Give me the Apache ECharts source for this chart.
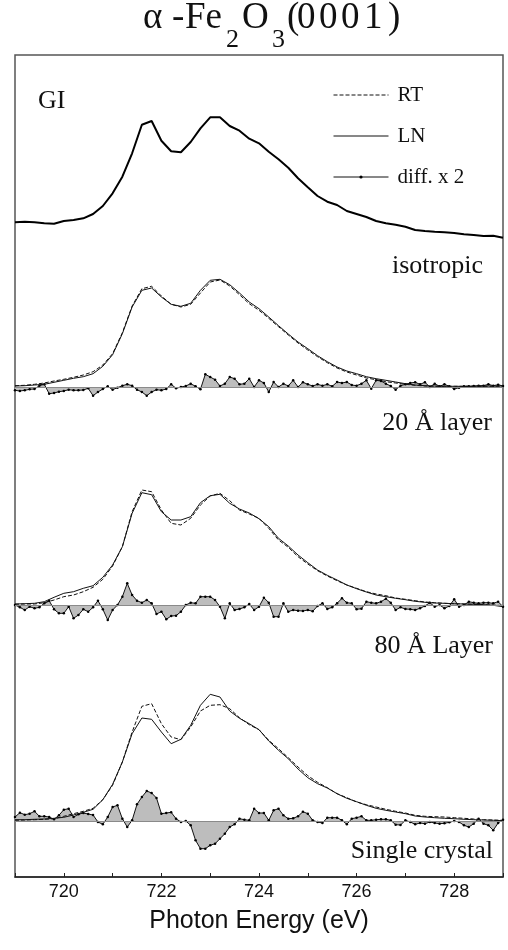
<!DOCTYPE html>
<html>
<head>
<meta charset="utf-8">
<script src="https://cdn.jsdelivr.net/npm/echarts@6/dist/echarts.min.js"></script>
<style>
  html, body { margin: 0; padding: 0; background: #fff; }
  #chart { width: 508px; height: 950px; }
</style>
</head>
<body>
<div id="chart"></div>
<script>
// photon energy grids (eV): spectra every 0.2 eV, difference curves every 0.1 eV
var energy = [719.0,719.2,719.4,719.6,719.8,720.0,720.2,720.4,720.6,720.8,
  721.0,721.2,721.4,721.6,721.8,722.0,722.2,722.4,722.6,722.8,
  723.0,723.2,723.4,723.6,723.8,724.0,724.2,724.4,724.6,724.8,
  725.0,725.2,725.4,725.6,725.8,726.0,726.2,726.4,726.6,726.8,
  727.0,727.2,727.4,727.6,727.8,728.0,728.2,728.4,728.6,728.8,729.0];
var energyFine = [719.0,719.1,719.2,719.3,719.4,719.5,719.6,719.7,719.8,719.9,
  720.0,720.1,720.2,720.3,720.4,720.5,720.6,720.7,720.8,720.9,
  721.0,721.1,721.2,721.3,721.4,721.5,721.6,721.7,721.8,721.9,
  722.0,722.1,722.2,722.3,722.4,722.5,722.6,722.7,722.8,722.9,
  723.0,723.1,723.2,723.3,723.4,723.5,723.6,723.7,723.8,723.9,
  724.0,724.1,724.2,724.3,724.4,724.5,724.6,724.7,724.8,724.9,
  725.0,725.1,725.2,725.3,725.4,725.5,725.6,725.7,725.8,725.9,
  726.0,726.1,726.2,726.3,726.4,726.5,726.6,726.7,726.8,726.9,
  727.0,727.1,727.2,727.3,727.4,727.5,727.6,727.7,727.8,727.9,
  728.0,728.1,728.2,728.3,728.4,728.5,728.6,728.7,728.8,728.9,729.0];

// GI spectrum
var gi = [17.7,18.3,17.7,16.7,16.3,19.0,20.0,21.7,26.0,34.0,
  46.7,63.3,86.7,115.3,119.0,99.3,88.7,87.7,98.0,111.7,
  122.7,122.7,114.0,109.3,101.3,96.7,88.3,80.7,72.3,61.7,
  52.7,44.0,38.3,35.0,29.0,26.0,23.0,19.0,16.7,15.3,
  13.3,10.0,9.0,8.3,7.7,7.0,5.7,5.0,4.0,4.3,2.3];

// isotropic
var isoRT = [1.3,1.7,2.7,4.0,6.0,7.7,9.7,12.0,15.3,22.0,
  33.3,54.3,81.0,98.3,100.7,91.0,82.7,80.0,82.7,94.0,
  105.0,107.0,101.0,92.3,83.3,76.7,68.7,60.3,52.0,44.0,
  37.0,30.3,24.3,19.0,15.0,12.0,9.0,7.3,5.3,4.0,
  2.7,1.7,1.0,0.7,0.7,0.7,0.7,0.7,0.7,0.7,0.7];
var isoLN = [1.0,1.3,2.0,2.7,4.7,6.7,8.7,10.3,13.3,20.7,
  32.3,53.3,80.0,96.7,99.0,90.0,82.7,80.7,83.7,96.7,
  106.7,107.7,102.3,94.0,85.0,78.3,70.0,61.3,53.0,45.0,
  38.3,31.3,25.3,20.0,16.0,13.3,10.3,8.3,6.7,5.0,
  3.3,2.0,1.3,1.0,0.7,0.7,0.7,0.7,1.0,1.0,1.0];
var isoDiff = [-3.3,-4,-3.3,-2.3,-2,1.3,2.7,-6.7,-6,-4.7,
  -4,-2.7,-3.3,-3.3,-3,-1.3,-8.7,-5,-2,0.7,
  -2.7,-0.7,1.3,2.7,1.3,-2.7,-5,-8.7,-5,-2.7,
  -3.3,-2,2.7,-1.3,0,1,3.3,0.7,-2.3,12.7,
  10,7.3,1,3.3,10,8.3,2.7,3.3,8.3,0,
  6.7,4,-5,5,0,3.3,1,6.7,0,4.7,
  2.7,1,2.7,1.3,2.7,0.7,5,4,5,2,
  1.3,3.3,6.7,-1.7,6.7,6,3.3,1,-2.7,1.3,
  2.7,4,4.7,2.7,4.7,0,3.3,0.7,2.7,0.7,
  -2,-0.7,0.7,0.7,1,1.3,1.3,2.7,1.3,2.3,1];

// 20 A layer
var l20RT = [0.7,1.0,1.0,2.3,5.0,8.3,10.0,13.3,17.7,25.7,
  39.0,58.3,93.3,115.0,113.3,95.0,81.7,80.0,86.7,100.0,
  109.0,111.7,104.3,95.0,91.0,86.7,76.7,65.0,57.7,48.3,
  41.0,34.3,29.0,24.3,20.0,16.7,13.3,11.0,9.3,7.0,
  5.7,4.3,3.0,2.3,1.7,1.3,1.0,0.7,0.3,0.0,-0.7];
var l20LN = [1.0,1.3,1.7,3.3,7.7,11.7,13.3,16.7,19.3,27.7,
  40.0,58.3,91.7,112.3,110.3,93.3,85.0,85.0,88.3,102.3,
  109.3,110.7,101.7,96.0,92.0,86.3,78.3,66.7,59.0,50.0,
  42.3,35.0,29.7,25.0,20.0,16.3,13.0,10.0,8.3,6.7,
  5.3,3.7,2.7,2.0,1.7,1.3,1.0,0.7,0.3,-0.3,-1.7];
var l20Diff = [0,-2.3,-5,-1.7,-3.3,-2.3,1.7,4.3,-4.3,-8.3,
  -8.3,-1.7,-13.3,-10,-4.3,-6.7,-2.3,4.3,-4.3,-15,
  -5,0,8.3,21.7,10,4.3,2.3,5,1.7,-9,
  -6.7,-14.3,-11,-10.7,-6.7,0,2.3,1.7,8.3,8.3,
  8.3,5,-1.7,-13.3,1.7,-5,-4,-2.3,1,-5,
  -1.7,7.3,2.3,-11.7,-11.7,1.7,-6.7,-5,-5.7,-6,
  -5,-6.3,-1,1.7,-4,-2.3,1.7,6.7,2.3,1.7,
  -4.3,-3.7,3.3,2.3,1.7,3.3,6.3,2.3,-5,-2.3,
  -4,-4.3,-5,-3.3,-1,2.3,-1.7,0,-3.3,-1,
  5.7,-1.7,0,3.3,2.3,1.7,2.3,2.3,1.7,3.3,-1.7];

// 80 A layer / single crystal
var scRT = [0.7,1.0,1.3,1.7,2.3,4.7,7.3,9.7,12.7,21.3,
  35.7,59.0,89.0,114.7,117.3,97.3,84.0,81.3,94.0,110.0,
  115.7,116.3,112.3,103.3,96.3,91.3,80.7,72.3,63.3,54.0,
  45.3,38.7,33.3,27.3,23.3,19.0,16.3,14.0,11.7,9.7,
  8.0,5.7,4.7,4.3,4.0,3.3,2.7,2.0,1.3,1.0,0.7];
var scLN = [1.3,1.3,1.7,2.0,2.7,3.7,6.0,8.7,11.7,21.3,
  36.7,59.0,87.3,103.0,101.7,89.0,77.3,81.7,95.7,115.7,
  126.7,124.0,110.0,102.7,97.3,91.3,80.0,70.7,62.3,52.0,
  43.3,37.3,33.0,27.3,22.7,19.3,15.7,12.7,10.7,9.0,
  7.3,5.0,4.0,3.3,2.7,2.3,1.7,1.3,1.0,0.7,0.3];
var scDiff = [4,8.3,6.3,7.3,9.7,4.7,4.7,4,1.7,5.7,
  11.3,12.3,4,6.7,8,7,6,-1,-3.3,4,
  14,15.7,2.3,-6,0.7,16.7,24,30,28,23,
  7.3,8,8.7,2.3,-1,0,-4.3,-19.3,-27.7,-27.7,
  -24.3,-22.7,-17.7,-12.7,-6,-3.3,2.3,1.3,0.7,12.3,
  8,8,0.7,10.7,12.3,5.7,2.3,2.7,4.7,9.3,
  7.3,0.7,-1,-2,3.3,3.3,3.3,0.7,-3.3,2.3,
  3.3,4.7,0.7,0.7,1.3,1.7,1.7,0.7,-3.7,-4,
  0.7,-1,-3.3,-2,-2.7,-1,-2,-2.7,-2.3,-1.3,
  0,-1,-4.3,-6,-2.7,2.3,-2.7,-4.3,-9.3,-2,1.3];

// vertical offsets of the stacked panels
var offGI = 637, offIso = 490, off20 = 272, offSC = 56;

function pairs(xs, ys, off) {
  return xs.map(function (x, i) { return [x, ys[i] + off]; });
}

function spectrum(name, ys, off, dashed) {
  return {
    name: name, type: 'line', symbol: 'none', silent: true, z: 3,
    data: pairs(energy, ys, off),
    lineStyle: { color: '#111', width: 1, type: dashed ? [4, 2] : 'solid' }
  };
}

function diffCurve(ys, off) {
  return {
    name: 'diff. x 2', type: 'line', symbol: 'circle', symbolSize: 2.5,
    showSymbol: true, showAllSymbol: true, silent: true, z: 2,
    data: pairs(energyFine, ys, off),
    itemStyle: { color: '#000' },
    lineStyle: { color: '#111', width: 1 },
    areaStyle: { origin: off, color: '#bdbdbd', opacity: 1 },
    markLine: {
      silent: true, symbol: 'none', label: { show: false },
      lineStyle: { color: '#8a8a8a', width: 1, type: 'solid' },
      data: [{ yAxis: off }]
    }
  };
}

var serif = 'Liberation Serif';
var sans = 'Liberation Sans';

function label(text, x, y, align, size) {
  return {
    type: 'text', x: x, y: y, silent: true,
    style: { text: text, font: (size || 26) + 'px "Liberation Serif"', fill: '#111', align: align, verticalAlign: 'middle' }
  };
}

// title is set glyph group by glyph group (the original is letter-spaced, subscripts lowered)
var titleMain = [['α', 143], ['-', 172], ['Fe', 185], ['O', 242], ['(', 287], ['0', 297], ['0', 319], ['0', 341], ['1', 364], [')', 388]];
var titleSub = [['2', 226], ['3', 272]];

var titleGraphics = titleMain.map(function (p) { return label(p[0], p[1], 18.6, 'left', 37); })
  .concat(titleSub.map(function (p) { return label(p[0], p[1], 40, 'left', 26); }));

var chart = echarts.init(document.getElementById('chart'));
chart.setOption({
  animation: false,
  backgroundColor: '#fff',
  legend: {
    data: [
      { name: 'RT', itemStyle: { opacity: 0 } },
      { name: 'LN', itemStyle: { opacity: 0 } },
      { name: 'diff. x 2' }
    ],
    orient: 'vertical', left: 328, top: 79,
    itemWidth: 55, itemHeight: 4, itemGap: 19,
    selectedMode: false,
    lineStyle: { width: 1 },
    textStyle: { fontFamily: serif, fontSize: 21, lineHeight: 22, color: '#111', padding: [0, 0, 0, 4] }
  },
  grid: {
    left: 15, right: 5, top: 55, bottom: 73,
    show: true, borderColor: '#555', borderWidth: 1.5
  },
  xAxis: {
    type: 'value', min: 719, max: 729, interval: 1,
    name: 'Photon Energy (eV)', nameLocation: 'middle', nameGap: 32,
    nameTextStyle: { fontFamily: sans, fontSize: 25, color: '#111' },
    axisLine: { lineStyle: { color: '#222', width: 1.5 } },
    axisTick: { inside: true, length: 4, lineStyle: { color: '#222', width: 1 } },
    axisLabel: {
      margin: 6, fontFamily: sans, fontSize: 18, color: '#111',
      formatter: function (v) { return v % 2 === 0 ? String(v) : ''; }
    },
    splitLine: { show: false }
  },
  yAxis: { type: 'value', min: 0, max: 822, show: false },
  graphic: titleGraphics.concat([
    label('GI', 38, 101, 'left'),
    label('isotropic', 483, 266, 'right'),
    label('20 Å layer', 492, 423, 'right'),
    label('80 Å Layer', 493, 646, 'right'),
    label('Single crystal', 493, 851, 'right')
  ]),
  series: [
    { name: 'GI', type: 'line', symbol: 'none', silent: true, z: 3,
      data: pairs(energy, gi, offGI), lineStyle: { color: '#000', width: 2 } },
    diffCurve(isoDiff, offIso),
    spectrum('RT', isoRT, offIso, true),
    spectrum('LN', isoLN, offIso, false),
    diffCurve(l20Diff, off20),
    spectrum('RT', l20RT, off20, true),
    spectrum('LN', l20LN, off20, false),
    diffCurve(scDiff, offSC),
    spectrum('RT', scRT, offSC, true),
    spectrum('LN', scLN, offSC, false)
  ]
});
</script>
</body>
</html>
